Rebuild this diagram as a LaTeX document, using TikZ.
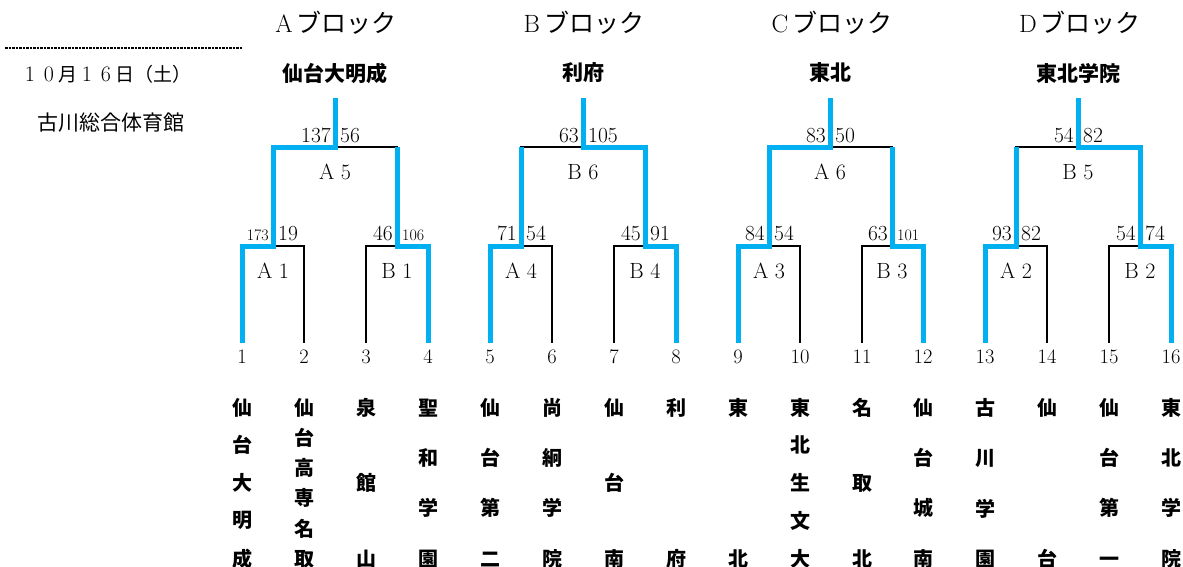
\documentclass[tikz,border=0pt]{standalone}
\usepackage{fontspec}
\newfontfamily\cjk{Noto Sans CJK JP}
\definecolor{winblue}{RGB}{0,176,240}
\newcommand\fwd[1]{\makebox[19pt]{\fontsize{22}{22}\selectfont #1}}
\newcommand\zc[1]{\hbox to 20pt{\vrule height 18pt depth 2pt width 0pt\hss#1\hss}}
\tikzset{
  bline/.style={line width=2pt, black},
  win/.style={line width=5pt, winblue},
  score/.style={font=\fontsize{21.5}{21.5}\selectfont, inner sep=0pt},
  sscore/.style={font=\fontsize{16}{16}\selectfont, inner sep=0pt},
  mlabel/.style={font=\fontsize{22}{22}\selectfont, inner sep=0pt},
  tnum/.style={font=\fontsize{20.5}{20.5}\selectfont, inner sep=0pt, anchor=base},
  tname/.style={font=\cjk\bfseries\fontsize{20}{20}\selectfont, inner sep=0pt, anchor=north},
  champ/.style={font=\cjk\bfseries\fontsize{21}{21}\selectfont, inner sep=0pt},
  header/.style={font=\fontsize{25}{25}\selectfont, inner sep=0pt},
  info/.style={inner sep=0pt},
}
\begin{document}
\begin{tikzpicture}[x=1pt,y=-1pt]
\useasboundingbox (0,0) rectangle (1183,566);
\fill[white] (0,0) rectangle (1183,566);
\clip (0,0) rectangle (1183,566);

% left info
\coordinate (dl) at (5,48);
\coordinate (dr) at (243,48);
\draw[line width=1.5pt, dash pattern=on 2.5pt off 1pt] (dl) -- (dr);
\node[info] (date) at (106,74) {\fontsize{19}{19}\selectfont\fwd{1}\fwd{0}{\cjk 月}\fwd{1}\fwd{6}{\cjk 日（土）}};
\node[info] (venue) at (111,123) {\cjk\fontsize{21}{21}\selectfont 古川総合体育館};

% headers
\node[header] (hA) at (336,23) {A\,{\cjk ブロック}};
\node[header] (hB) at (584,23) {B\,{\cjk ブロック}};
\node[header] (hC) at (832,23) {C\,{\cjk ブロック}};
\node[header] (hD) at (1080,23) {D\,{\cjk ブロック}};

% champions
\node[champ] (cA) at (335,73) {仙台大明成};
\node[champ] (cB) at (583,73) {利府};
\node[champ] (cC) at (830,73) {東北};
\node[champ] (cD) at (1078,73) {東北学院};

% team numbers
\foreach \i/\x in {1/242,2/304,3/366,4/428,5/490,6/552,7/614,8/676,9/738,10/800,11/862,12/923,13/985,14/1047,15/1109,16/1171}{
  \coordinate (b\i) at (\x,343);
  \node[tnum] (n\i) at (\x,363) {\i};
}

% match junctions
\coordinate (A1) at (273,246);
\coordinate (B1) at (397,246);
\coordinate (A4) at (521,246);
\coordinate (B4) at (645,246);
\coordinate (A3) at (769,246);
\coordinate (B3) at (892,246);
\coordinate (A2) at (1016,246);
\coordinate (B2) at (1140,246);
\coordinate (A5) at (335,147);
\coordinate (B6) at (583,147);
\coordinate (A6) at (830,147);
\coordinate (B5) at (1078,147);
\coordinate (tA) at (335,98);
\coordinate (tB) at (583,98);
\coordinate (tC) at (830,98);
\coordinate (tD) at (1078,98);

% black bracket
\draw[bline] (b1) |- (A1) -| (b2);
\draw[bline] (b3) |- (B1) -| (b4);
\draw[bline] (b5) |- (A4) -| (b6);
\draw[bline] (b7) |- (B4) -| (b8);
\draw[bline] (b9) |- (A3) -| (b10);
\draw[bline] (b11) |- (B3) -| (b12);
\draw[bline] (b13) |- (A2) -| (b14);
\draw[bline] (b15) |- (B2) -| (b16);
\draw[bline] (A1) |- (A5) -| (B1);
\draw[bline] (A4) |- (B6) -| (B4);
\draw[bline] (A3) |- (A6) -| (B3);
\draw[bline] (A2) |- (B5) -| (B2);

% winners
\draw[win] (b1) |- (A1) |- (A5) -- (tA);
\draw[win] (b4) |- (B1) -- (B1 |- A5);
\draw[win] (b8) |- (B4) |- (B6) -- (tB);
\draw[win] (b5) |- (A4) -- (A4 |- B6);
\draw[win] (b9) |- (A3) |- (A6) -- (tC);
\draw[win] (b12) |- (B3) -- (B3 |- A6);
\draw[win] (b16) |- (B2) |- (B5) -- (tD);
\draw[win] (b13) |- (A2) -- (A2 |- B5);

% scores
\node[sscore, anchor=base east] (sA1l) at ([xshift=-4pt,yshift=6pt]A1) {173};
\node[score,  anchor=base west] (sA1r) at ([xshift=5pt,yshift=6pt]A1) {19};
\node[score,  anchor=base east] (sB1l) at ([xshift=-4pt,yshift=6pt]B1) {46};
\node[sscore, anchor=base west] (sB1r) at ([xshift=5pt,yshift=6pt]B1) {106};
\node[score,  anchor=base east] (sA4l) at ([xshift=-4pt,yshift=6pt]A4) {71};
\node[score,  anchor=base west] (sA4r) at ([xshift=5pt,yshift=6pt]A4) {54};
\node[score,  anchor=base east] (sB4l) at ([xshift=-4pt,yshift=6pt]B4) {45};
\node[score,  anchor=base west] (sB4r) at ([xshift=5pt,yshift=6pt]B4) {91};
\node[score,  anchor=base east] (sA3l) at ([xshift=-4pt,yshift=6pt]A3) {84};
\node[score,  anchor=base west] (sA3r) at ([xshift=5pt,yshift=6pt]A3) {54};
\node[score,  anchor=base east] (sB3l) at ([xshift=-4pt,yshift=6pt]B3) {63};
\node[sscore, anchor=base west] (sB3r) at ([xshift=5pt,yshift=6pt]B3) {101};
\node[score,  anchor=base east] (sA2l) at ([xshift=-4pt,yshift=6pt]A2) {93};
\node[score,  anchor=base west] (sA2r) at ([xshift=5pt,yshift=6pt]A2) {82};
\node[score,  anchor=base east] (sB2l) at ([xshift=-4pt,yshift=6pt]B2) {54};
\node[score,  anchor=base west] (sB2r) at ([xshift=5pt,yshift=6pt]B2) {74};
\node[score,  anchor=base east] (sA5l) at ([xshift=-4pt,yshift=5pt]A5) {137};
\node[score,  anchor=base west] (sA5r) at ([xshift=5pt,yshift=5pt]A5) {56};
\node[score,  anchor=base east] (sB6l) at ([xshift=-4pt,yshift=5pt]B6) {63};
\node[score,  anchor=base west] (sB6r) at ([xshift=5pt,yshift=5pt]B6) {105};
\node[score,  anchor=base east] (sA6l) at ([xshift=-4pt,yshift=5pt]A6) {83};
\node[score,  anchor=base west] (sA6r) at ([xshift=5pt,yshift=5pt]A6) {50};
\node[score,  anchor=base east] (sB5l) at ([xshift=-4pt,yshift=5pt]B5) {54};
\node[score,  anchor=base west] (sB5r) at ([xshift=5pt,yshift=5pt]B5) {82};

% match labels
\node[mlabel] (lA1) at (273,271) {A 1};
\node[mlabel] (lB1) at (397,271) {B 1};
\node[mlabel] (lA4) at (521,271) {A 4};
\node[mlabel] (lB4) at (645,271) {B 4};
\node[mlabel] (lA3) at (769,271) {A 3};
\node[mlabel] (lB3) at (892,271) {B 3};
\node[mlabel] (lA2) at (1016,271) {A 2};
\node[mlabel] (lB2) at (1140,271) {B 2};
\node[mlabel] (lA5) at (335,172) {A 5};
\node[mlabel] (lB6) at (583,172) {B 6};
\node[mlabel] (lA6) at (830,172) {A 6};
\node[mlabel] (lB5) at (1078,172) {B 5};

% team names (vertical)
\node[tname] (m1) at (242,397) {\vbox to 169pt{\zc{仙}\vfill\zc{台}\vfill\zc{大}\vfill\zc{明}\vfill\zc{成}}};
\node[tname] (m2) at (304,397) {\vbox to 169pt{\zc{仙}\vfill\zc{台}\vfill\zc{高}\vfill\zc{専}\vfill\zc{名}\vfill\zc{取}}};
\node[tname] (m3) at (366,397) {\vbox to 169pt{\zc{泉}\vfill\zc{館}\vfill\zc{山}}};
\node[tname] (m4) at (428,397) {\vbox to 169pt{\zc{聖}\vfill\zc{和}\vfill\zc{学}\vfill\zc{園}}};
\node[tname] (m5) at (490,397) {\vbox to 169pt{\zc{仙}\vfill\zc{台}\vfill\zc{第}\vfill\zc{二}}};
\node[tname] (m6) at (552,397) {\vbox to 169pt{\zc{尚}\vfill\zc{絅}\vfill\zc{学}\vfill\zc{院}}};
\node[tname] (m7) at (614,397) {\vbox to 169pt{\zc{仙}\vfill\zc{台}\vfill\zc{南}}};
\node[tname] (m8) at (676,397) {\vbox to 169pt{\zc{利}\vfill\zc{府}}};
\node[tname] (m9) at (738,397) {\vbox to 169pt{\zc{東}\vfill\zc{北}}};
\node[tname] (m10) at (800,397) {\vbox to 169pt{\zc{東}\vfill\zc{北}\vfill\zc{生}\vfill\zc{文}\vfill\zc{大}}};
\node[tname] (m11) at (862,397) {\vbox to 169pt{\zc{名}\vfill\zc{取}\vfill\zc{北}}};
\node[tname] (m12) at (923,397) {\vbox to 169pt{\zc{仙}\vfill\zc{台}\vfill\zc{城}\vfill\zc{南}}};
\node[tname] (m13) at (985,397) {\vbox to 169pt{\zc{古}\vfill\zc{川}\vfill\zc{学}\vfill\zc{園}}};
\node[tname] (m14) at (1047,397) {\vbox to 169pt{\zc{仙}\vfill\zc{台}}};
\node[tname] (m15) at (1109,397) {\vbox to 169pt{\zc{仙}\vfill\zc{台}\vfill\zc{第}\vfill\zc{一}}};
\node[tname] (m16) at (1171,397) {\vbox to 169pt{\zc{東}\vfill\zc{北}\vfill\zc{学}\vfill\zc{院}}};
\end{tikzpicture}
\end{document}
